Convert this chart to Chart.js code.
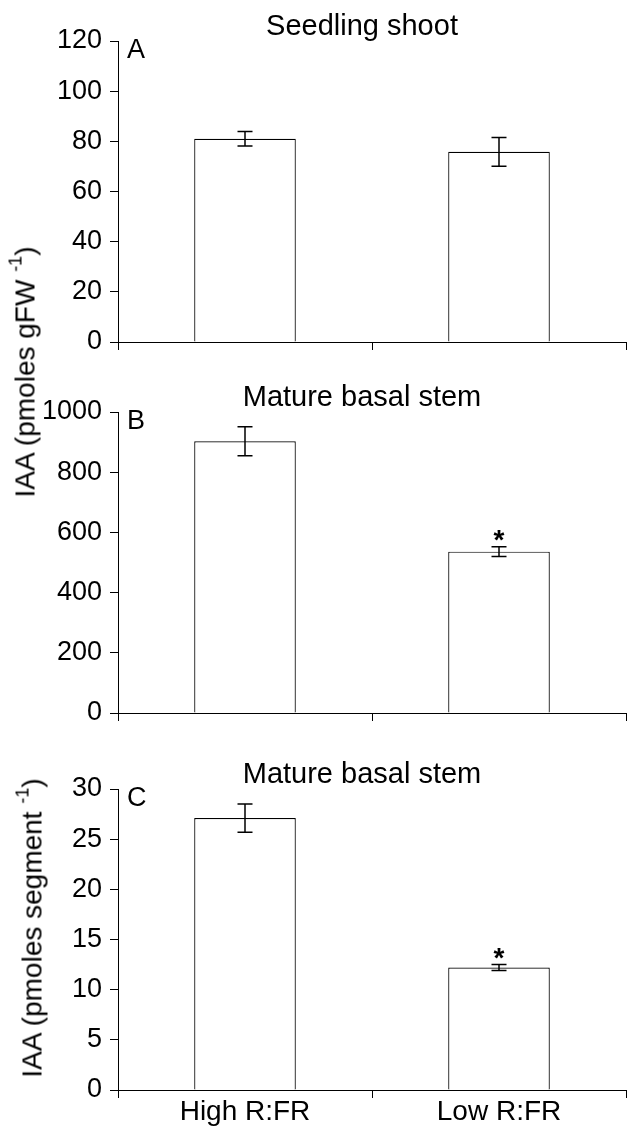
<!DOCTYPE html>
<html>
<head>
<meta charset="utf-8">
<script src="https://cdn.jsdelivr.net/npm/chart.js@4"></script>
<style>
body { margin: 0; background: #fff; }
#wrap { position: relative; width: 627px; height: 1128px; overflow: hidden; font-family: 'Liberation Sans', Arial, sans-serif; }
canvas { position: absolute; left: 0; }
.ylab { position: absolute; white-space: nowrap; font-size: 28px; line-height: 28px; color: #000;
        transform: translate(-50%, -50%) rotate(-90deg); }
.ylab span { font-size: 18px; position: relative; top: -13px; }
</style>
</head>
<body>
<div id="wrap">
  <canvas id="chart-a" width="627" height="371" style="top:0"></canvas>
  <canvas id="chart-b" width="627" height="371" style="top:371px"></canvas>
  <canvas id="chart-c" width="627" height="380" style="top:748px"></canvas>
  <div class="ylab" style="left:27px; top:372px">IAA (pmoles gFW <span>-1</span>)</div>
  <div class="ylab" style="left:34px; top:928px">IAA (pmoles segment <span>-1</span>)</div>
</div>
<script>
var categories = ['High R:FR', 'Low R:FR'];

// A: seedling shoot, pmoles/gFW
var shootIAA = [81, 75.8];
var shootErr = [2.9, 5.7];
// B: mature basal stem, pmoles/gFW
var stemIAA = [903, 536];
var stemErr = [48, 16];
// C: mature basal stem, pmoles/segment
var segIAA = [27.1, 12.2];
var segErr = [1.4, 0.3];

var stemSig = [false, true];
var segSig = [false, true];
var noSig = [false, false];

var panelTitles = ['Seedling shoot', 'Mature basal stem', 'Mature basal stem'];
var panelLetters = ['A', 'B', 'C'];

var fontFamily = "'Liberation Sans', Arial, sans-serif";
Chart.defaults.font.family = fontFamily;
Chart.defaults.color = '#000';

// error bars, asterisks, panel title and letter
var panelDecor = {
    id: 'panelDecor',
    afterDatasetsDraw: function(chart, args, opts) {
        var ctx = chart.ctx;
        var y = chart.scales.y;
        var area = chart.chartArea;
        var vals = chart.data.datasets[0].data;
        var meta = chart.getDatasetMeta(0);
        ctx.save();
        ctx.strokeStyle = '#000';
        ctx.fillStyle = '#000';
        ctx.lineWidth = 1.5;
        meta.data.forEach(function(bar, i) {
            var top = y.getPixelForValue(vals[i] + opts.errors[i]);
            var bot = y.getPixelForValue(vals[i] - opts.errors[i]);
            ctx.beginPath();
            ctx.moveTo(bar.x, top);
            ctx.lineTo(bar.x, bot);
            ctx.moveTo(bar.x - 7.5, top);
            ctx.lineTo(bar.x + 7.5, top);
            ctx.moveTo(bar.x - 7.5, bot);
            ctx.lineTo(bar.x + 7.5, bot);
            ctx.stroke();
            if (opts.sig[i]) {
                ctx.font = 'bold 28px ' + fontFamily;
                ctx.textAlign = 'center';
                ctx.textBaseline = 'alphabetic';
                ctx.fillText('*', bar.x, top + 2);
            }
        });
        ctx.font = '29px ' + fontFamily;
        ctx.textAlign = 'center';
        ctx.textBaseline = 'middle';
        ctx.fillText(opts.title, 362, area.top - 14);
        ctx.font = '27px ' + fontFamily;
        ctx.textAlign = 'left';
        ctx.fillText(opts.letter, area.left + 9, area.top + 10);
        ctx.restore();
    }
};

function makePanel(id, n, values, errors, sig, yMax, yStep, showLabels, xHeight) {
    var ctx = document.getElementById(id).getContext('2d');
    return new Chart(ctx, {
        type: 'bar',
        data: {
            labels: categories,
            datasets: [{
                data: values,
                backgroundColor: '#fff',
                borderColor: '#000',
                borderWidth: 1.2,
                barPercentage: 0.4,
                categoryPercentage: 1
            }]
        },
        options: {
            responsive: false,
            animation: false,
            layout: { padding: { top: 41, right: 1, left: 0, bottom: 0 } },
            plugins: {
                legend: { display: false },
                tooltip: { enabled: false },
                panelDecor: { title: panelTitles[n], letter: panelLetters[n], errors: errors, sig: sig }
            },
            scales: {
                x: {
                    grid: { offset: true, drawOnChartArea: false, tickLength: 8, color: '#000' },
                    border: { color: '#000', width: 1 },
                    ticks: { display: showLabels, color: '#000', font: { size: 28, lineHeight: 1 }, padding: 0 },
                    afterFit: function(s) { s.height = xHeight; }
                },
                y: {
                    min: 0,
                    max: yMax,
                    ticks: {
                        stepSize: yStep, color: '#000', font: { size: 27 }, padding: 8,
                        callback: function(v) { return String(v); }
                    },
                    grid: { drawOnChartArea: false, tickLength: 8, color: '#000' },
                    border: { color: '#000', width: 1 },
                    afterFit: function(s) { s.width = 118; }
                }
            }
        },
        plugins: [panelDecor]
    });
}

var chartA = makePanel('chart-a', 0, shootIAA, shootErr, noSig, 120, 20, false, 29);
var chartB = makePanel('chart-b', 1, stemIAA, stemErr, stemSig, 1000, 200, false, 29);
var chartC = makePanel('chart-c', 2, segIAA, segErr, segSig, 30, 5, true, 38);
</script>
</body>
</html>
